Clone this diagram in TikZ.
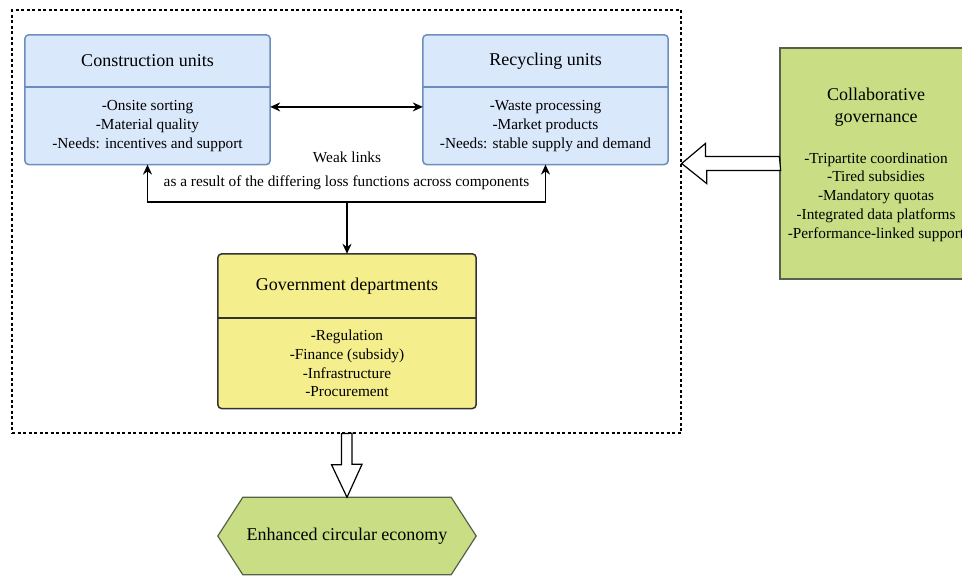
\documentclass[tikz,border=0pt]{standalone}
\usepackage{fontspec}
\setmainfont{LiberationSerif}[Extension=.ttf, UprightFont=*-Regular, BoldFont=*-Bold, ItalicFont=*-Italic, BoldItalicFont=*-BoldItalic]
\usetikzlibrary{positioning,arrows.meta,backgrounds,calc}

\definecolor{fillblue}{HTML}{DAE8FC}
\definecolor{lineblue}{HTML}{6C8EBF}
\definecolor{fillyellow}{HTML}{F5EE8C}
\definecolor{fillgreen}{HTML}{C9DE84}
\definecolor{linegreen}{HTML}{56604A}

\tikzset{
    head/.style={inner sep=0pt, align=center, font=\fontsize{18}{22}\selectfont},
    items/.style={inner sep=0pt, align=center, font=\fontsize{15.3}{18.8}\selectfont},
    bluebox/.style={draw=lineblue, fill=fillblue, line width=1.5pt, rounded corners=4pt},
    yellowbox/.style={draw=black!80, fill=fillyellow, line width=1.5pt, rounded corners=4pt},
    greenbox/.style={draw=linegreen, fill=fillgreen, line width=1.2pt},
    link/.style={draw=black, line width=1.4pt, -{Stealth[length=10pt,width=9pt]}},
    hollow/.style={draw=black, line width=1.2pt, fill=white, line join=miter},
    frame/.style={draw=black, line width=1.3pt, dash pattern=on 3pt off 2.5pt, inner sep=0pt}
}

\begin{document}
\begin{tikzpicture}[x=1pt, y=-1pt]
    \useasboundingbox (0,0) rectangle (962,579);

    % dashed frame round the three units
    \node[frame, minimum width=669, minimum height=423] (frame) at (346.5,221.5) {};

    % construction units
    \node[head, minimum width=245, minimum height=52] (cons) at (147.5,61) {Construction units};
    \node[items, minimum width=245, minimum height=77, below=0pt of cons] (consbody)
        {-Onsite sorting\\-Material quality\\-Needs: incentives and support};

    % recycling units
    \node[head, minimum width=245, minimum height=52] (recy) at (545.5,61) {Recycling units};
    \node[items, minimum width=245, minimum height=77, below=0pt of recy] (recybody)
        {-Waste processing\\-Market products\\-Needs: stable supply and demand};

    % government departments
    \node[head, minimum width=258, minimum height=64] (gov) at (347,286) {Government departments};
    \node[items, minimum width=258, minimum height=90, below=0pt of gov] (govbody)
        {-Regulation\\-Finance (subsidy)\\-Infrastructure\\-Procurement};

    % collaborative governance
    \node[greenbox, minimum width=192, minimum height=231] (collab) at (876,163.5) {};
    \node[head] (collabhead) at (876,107) {Collaborative\\governance};
    \node[items] (collabbody) at (876,197)
        {-Tripartite coordination\\-Tired subsidies\\-Mandatory quotas\\-Integrated data platforms\\-Performance-linked support};

    % result
    \node[head, minimum width=258, minimum height=77] (econ) at (347,536) {Enhanced circular economy};

    \begin{scope}[on background layer]
        \draw[bluebox] (cons.north west) rectangle (consbody.south east);
        \draw[bluebox] (recy.north west) rectangle (recybody.south east);
        \draw[yellowbox] (gov.north west) rectangle (govbody.south east);
        \draw[greenbox] (econ.west) -- ($(econ.north west)+(25,0)$) -- ($(econ.north east)+(-25,0)$)
            -- (econ.east) -- ($(econ.south east)+(-25,0)$) -- ($(econ.south west)+(25,0)$) -- cycle;
    \end{scope}
    \draw[draw=lineblue, line width=1.5pt] (cons.south west) -- (cons.south east);
    \draw[draw=lineblue, line width=1.5pt] (recy.south west) -- (recy.south east);
    \draw[draw=black!80, line width=1.5pt] (gov.south west) -- (gov.south east);

    % weak links
    \draw[link, {Stealth[length=10pt,width=9pt]}-{Stealth[length=10pt,width=9pt]}]
        ([yshift=19pt]consbody.east) -- ([yshift=19pt]recybody.west);
    \node[items] (weak) at (347,157) {Weak links};
    \node[items] (reason) at (346.5,183) {as a result of the differing loss functions across components};
    \coordinate (split) at (347,202);
    \draw[link] (split) -| (consbody.south);
    \draw[link] (split) -| (recybody.south);
    \draw[link] (split) -- (gov.north);

    % hollow arrows
    \draw[hollow] ($(collab.west)+(0,-7)$) -- ++(-74,0) -- ++(0,-13) -- (frame.east |- collab.west)
        -- ++(25,20) -- ++(0,-13) -- ++(74,0) -- cycle;
    \draw[hollow] ($(frame.south)+(-5,0)$) -- ++(0,31) -- ++(-10,0) -- (econ.north)
        -- ++(15,-33) -- ++(-10,0) -- ++(0,-31) -- cycle;
\end{tikzpicture}
\end{document}
